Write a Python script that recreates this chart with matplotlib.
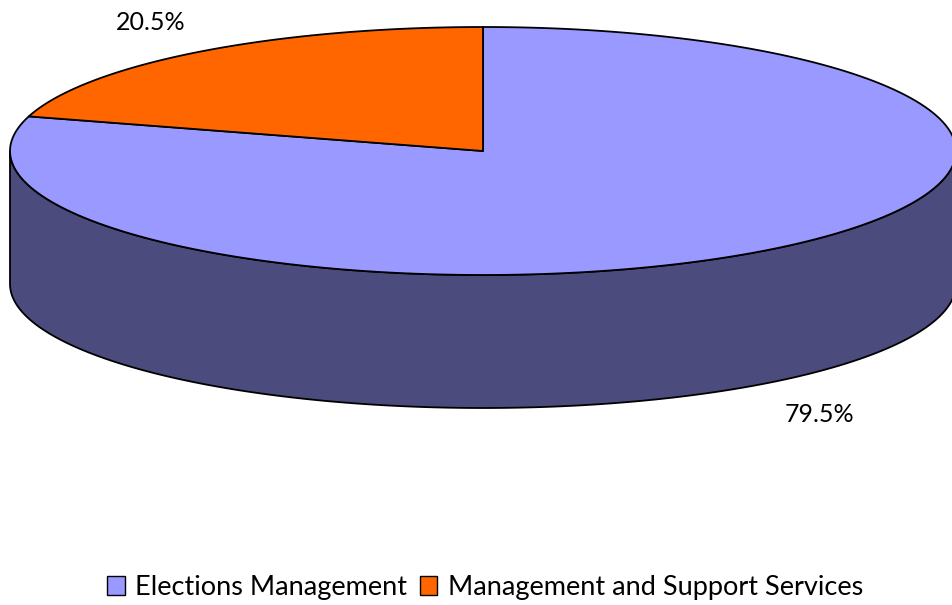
import numpy as np
import matplotlib.pyplot as plt
from matplotlib.patches import Polygon, Patch

# Budget split
labels = ["Elections Management", "Management and Support Services"]
shares = [79.5, 20.5]
top_colors = ["#9999FF", "#FF6600"]
side_color = "#4B4B7D"

plt.rcParams['font.family'] = ['Lato', 'DejaVu Sans']

fig = plt.figure(figsize=(9.53, 6.05), dpi=100)
ax = fig.add_axes([0, 0, 1, 1])
ax.set_xlim(0, 953)
ax.set_ylim(605, 0)
ax.axis("off")

# pie geometry (pixel space, y pointing down)
cx, cy = 483, 151
ra, rb = 473, 124
depth = 133


def arc(t0, t1, yoff=0, n=200):
    t = np.radians(np.linspace(t0, t1, n))
    return np.column_stack([cx + ra * np.cos(t), cy - rb * np.sin(t) + yoff])


# front wall of the cylinder
wall = np.vstack([arc(180, 360), arc(360, 180, depth)])
ax.add_patch(Polygon(wall, closed=True, facecolor=side_color,
                     edgecolor="black", linewidth=1.3, joinstyle="round"))

# top faces: start at 12 o'clock, first slice runs clockwise
start = 90.0
total = sum(shares)
spans = [s / total * 360 for s in shares]
t_el = (start - spans[0], start)
t_ms = (start, start + spans[1])
for (t0, t1), col in zip([t_el, t_ms], top_colors):
    pts = np.vstack([[cx, cy], arc(t0, t1)])
    ax.add_patch(Polygon(pts, closed=True, facecolor=col,
                         edgecolor="black", linewidth=1.3, joinstyle="round"))

# percentage labels
mid_el = np.radians(start - spans[0] / 2)
mid_ms = np.radians(start + spans[1] / 2)
ax.text(cx + ra * np.cos(mid_el) + 52, cy - rb * np.sin(mid_el) + depth + 31,
        f"{shares[0]:.1f}%", ha="center", va="center", fontsize=18)
ax.text(cx + ra * np.cos(mid_ms) - 48, cy - rb * np.sin(mid_ms) - 29,
        f"{shares[1]:.1f}%", ha="center", va="center", fontsize=18)

handles = [Patch(facecolor=c, edgecolor="black", linewidth=1.0) for c in top_colors]
fig.legend(handles, labels, loc="center", bbox_to_anchor=(0.509, 0.029),
           ncol=2, frameon=False, fontsize=19.5, handlelength=0.65,
           handleheight=0.75, handletextpad=0.4, columnspacing=0.45)

fig.savefig("out.png", dpi=100)
